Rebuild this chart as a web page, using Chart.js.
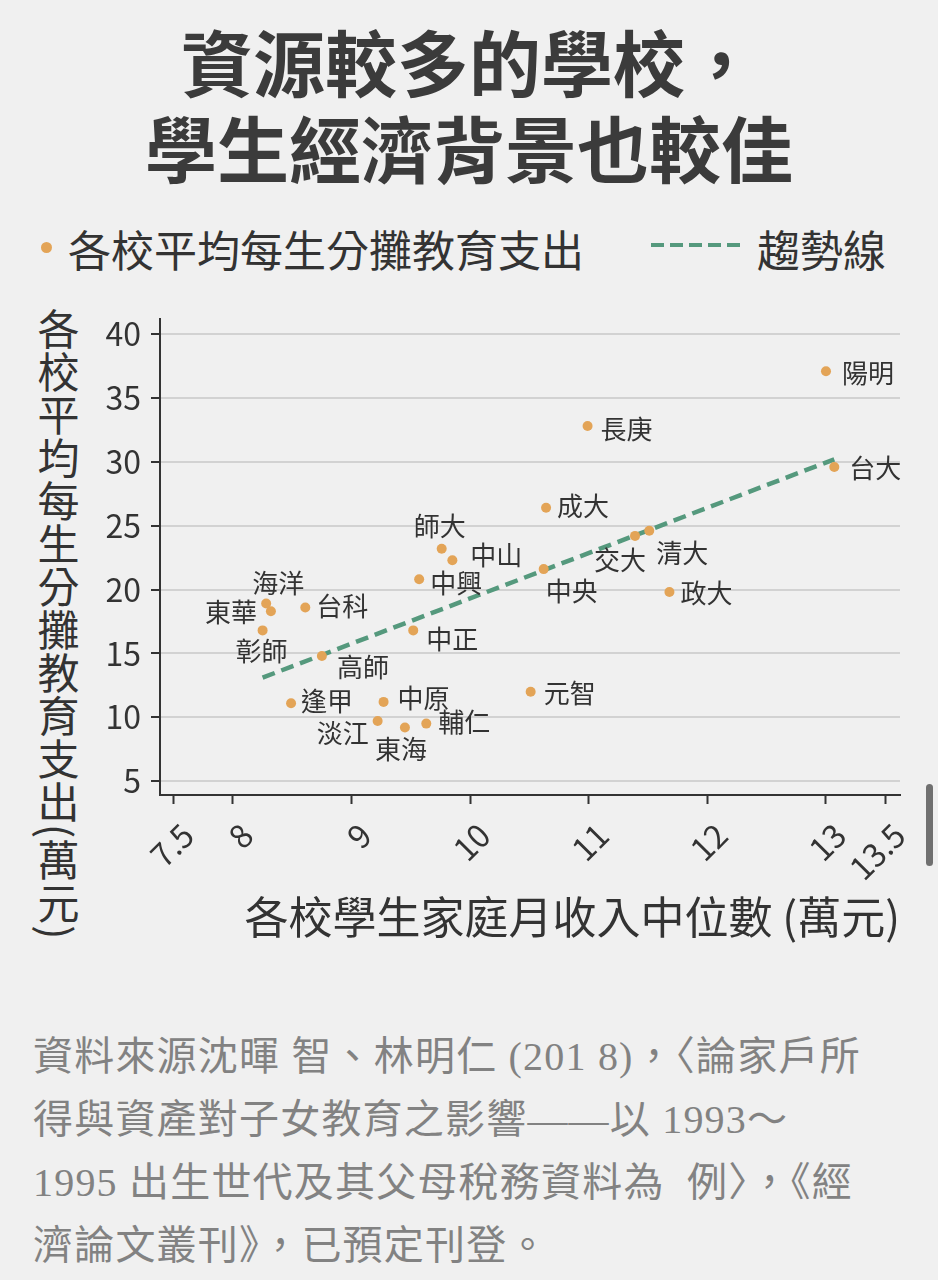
<!DOCTYPE html>
<html lang="zh-Hant">
<head>
<meta charset="utf-8">
<title>資源較多的學校，學生經濟背景也較佳</title>
<script src="https://cdn.jsdelivr.net/npm/chart.js@4.4.1/dist/chart.umd.min.js"></script>
<style>
  html, body { margin: 0; padding: 0; }
  body {
    width: 938px; height: 1280px; position: relative; overflow: hidden;
    background: #f0f0f0; color: #333;
    font-family: "Noto Sans CJK TC", "Noto Sans", sans-serif;
  }
  h1 {
    position: absolute; left: 0; top: 17px; width: 938px; margin: 0;
    text-align: center; font-size: 72px; line-height: 86px; font-weight: 700; color: #3b3b3b;
  }
  .lg-dot { position: absolute; left: 41px; top: 242px; width: 11px; height: 11px; border-radius: 50%; background: #e3a457; }
  .lg-text { position: absolute; top: 222px; font-size: 43px; line-height: 52px; color: #333; }
  .lg-dash {
    position: absolute; left: 651px; top: 243px; width: 89px; height: 4px;
    background: repeating-linear-gradient(to right, #55997d 0 13px, transparent 13px 19px);
  }
  .ytitle {
    position: absolute; left: 36px; top: 308px;
    writing-mode: vertical-rl; text-orientation: mixed;
    font-size: 42px; line-height: 44px; letter-spacing: 1px; color: #333;
  }
  #wrap { position: absolute; left: 0; top: 290px; width: 938px; height: 660px; }
  .source {
    position: absolute; left: 33px; top: 1025px; margin: 0;
    font-family: "Liberation Serif", "Noto Sans CJK TC", serif;
    font-size: 40px; line-height: 63px; letter-spacing: 1.2px; color: #828282;
  }
  .scroll { position: absolute; left: 926px; top: 784px; width: 7px; height: 82px; border-radius: 4px; background: #707070; }
</style>
</head>
<body>
<h1>資源較多的學校，<br>學生經濟背景也較佳</h1>

<div class="lg-dot"></div>
<div class="lg-text" style="left:68px">各校平均每生分攤教育支出</div>
<div class="lg-dash"></div>
<div class="lg-text" style="left:757px">趨勢線</div>

<div class="ytitle">各校平均每生分攤教育支出(萬元)</div>

<div id="wrap"><canvas id="chart"></canvas></div>

<p class="source">資料來源沈暉 智、林明仁 (201 8)，〈論家戶所<br>得與資產對子女教育之影響——以 1993～<br>1995 出生世代及其父母稅務資料為&nbsp; 例〉，《經<br>濟論文叢刊》，已預定刊登。</p>

<div class="scroll"></div>

<script>
// schools and values (萬元)
const schools  = ['陽明', '長庚', '台大', '成大', '師大', '中山', '交大', '清大', '中央', '中興', '政大', '海洋',
                  '東華', '台科', '彰師', '中正', '高師', '元智', '逢甲', '中原', '淡江', '東海', '輔仁'];
const income   = [13.00, 10.99, 13.07, 10.64, 9.76, 9.85, 11.39, 11.51, 10.62, 9.57, 11.68, 8.28,
                  8.32, 8.61, 8.25, 9.52, 8.75, 10.51, 8.49, 9.27, 9.22, 9.45, 9.63];
const spending = [37.1, 32.8, 29.6, 26.4, 23.2, 22.3, 24.2, 24.6, 21.6, 20.8, 19.8, 18.9,
                  18.3, 18.6, 16.8, 16.8, 14.8, 12.0, 11.1, 11.2, 9.7, 9.2, 9.5];

// trend line end points
const trendX = [8.25, 13.07];
const trendY = [13.1, 30.2];

const xTicks = [7.5, 8, 9, 10, 11, 12, 13, 13.5];
const yTicks = [5, 10, 15, 20, 25, 30, 35, 40];

// where each name sits relative to its dot (px)
const labelPos = {
  '陽明': [42, 2], '長庚': [39, 3], '台大': [41, 1], '成大': [37, -2], '師大': [-2, -23],
  '中山': [44, -5], '交大': [-15, 24], '清大': [33, 22], '中央': [28, 22], '中興': [37, 4],
  '政大': [37, 1], '海洋': [12, -20], '東華': [-40, 1], '台科': [37, -1], '彰師': [-1, 21],
  '中正': [39, 9], '高師': [41, 11], '元智': [39, 1], '逢甲': [36, -2], '中原': [40, -4],
  '淡江': [-35, 12], '東海': [-4, 22], '輔仁': [38, -1]
};

const pointLabels = {
  id: 'pointLabels',
  afterDatasetsDraw(chart) {
    const ctx = chart.ctx;
    const meta = chart.getDatasetMeta(0);
    ctx.save();
    ctx.font = '26px "Noto Sans CJK TC"';
    ctx.fillStyle = '#333';
    ctx.textAlign = 'center';
    ctx.textBaseline = 'middle';
    meta.data.forEach((pt, i) => {
      const off = labelPos[schools[i]] || [36, 0];
      ctx.fillText(schools[i], pt.x + off[0], pt.y + off[1]);
    });
    ctx.restore();
  }
};

const ink = '#333';

new Chart(document.getElementById('chart'), {
  type: 'scatter',
  data: {
    datasets: [
      {
        label: '各校平均每生分攤教育支出',
        data: income.map((x, i) => ({ x: x, y: spending[i] })),
        backgroundColor: '#e3a457',
        borderWidth: 0,
        pointRadius: 5,
        order: 0
      },
      {
        label: '趨勢線',
        data: trendX.map((x, i) => ({ x: x, y: trendY[i] })),
        showLine: true,
        borderColor: '#55997d',
        borderWidth: 4.5,
        borderDash: [13, 7],
        pointRadius: 0,
        fill: false,
        order: 1
      }
    ]
  },
  options: {
    responsive: true,
    maintainAspectRatio: false,
    animation: false,
    layout: { padding: { top: 26, right: 38, left: 0, bottom: 0 } },
    plugins: { legend: { display: false }, tooltip: { enabled: false } },
    scales: {
      x: {
        type: 'linear',
        min: 7.385,
        max: 13.624,
        afterBuildTicks: axis => { axis.ticks = xTicks.map(v => ({ value: v })); },
        afterFit: s => { s.height = 155; },
        ticks: {
          autoSkip: false,
          minRotation: 45,
          maxRotation: 45,
          color: ink,
          font: { family: 'Noto Sans CJK TC', size: 32 },
          padding: 12,
          labelOffset: 14
        },
        grid: { drawOnChartArea: false, drawTicks: true, tickLength: 9, tickColor: ink, tickWidth: 2 },
        border: { color: ink, width: 2 },
        title: {
          display: true,
          text: '各校學生家庭月收入中位數 (萬元)',
          align: 'end',
          color: ink,
          font: { family: 'Noto Sans CJK TC', size: 44 },
          padding: { top: 0, bottom: 6 }
        }
      },
      y: {
        type: 'linear',
        min: 3.91,
        max: 41.17,
        afterBuildTicks: axis => { axis.ticks = yTicks.map(v => ({ value: v })); },
        afterFit: s => { s.width = 160; },
        ticks: {
          color: ink,
          font: { family: 'Noto Sans CJK TC', size: 32 },
          padding: 10
        },
        grid: { color: '#d2d2d2', lineWidth: 2, drawTicks: true, tickLength: 9, tickColor: ink, tickWidth: 2 },
        border: { color: ink, width: 2 }
      }
    }
  },
  plugins: [pointLabels]
});
</script>
</body>
</html>
